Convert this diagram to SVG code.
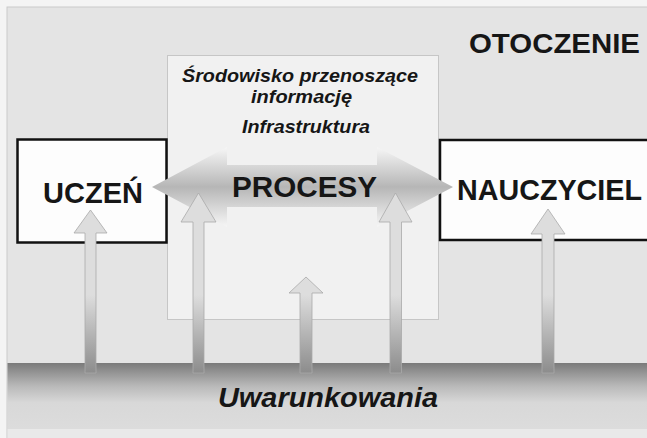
<svg xmlns="http://www.w3.org/2000/svg" width="647" height="438" viewBox="0 0 647 438">
  <style>
    .t { font-family: "Liberation Sans", Arial, sans-serif; font-weight: bold; fill: #161616; }
    .it { font-style: italic; }
    .box { fill: #fdfdfd; stroke: #111111; stroke-width: 2.5; }
    .varrow { fill: url(#vgrad); stroke: #a9a9a9; stroke-width: 0.8; }
  </style>
  <defs>
    <linearGradient id="band" x1="0" y1="0" x2="0" y2="1">
      <stop offset="0" stop-color="#7a7a7a"/>
      <stop offset="0.35" stop-color="#b9b9b9"/>
      <stop offset="0.6" stop-color="#d8d8d8"/>
      <stop offset="1" stop-color="#dcdcdc"/>
    </linearGradient>
    <linearGradient id="hgrad" x1="0" y1="0" x2="0" y2="1">
      <stop offset="0" stop-color="#f6f6f6"/>
      <stop offset="0.5" stop-color="#b6b6b6"/>
      <stop offset="1" stop-color="#f6f6f6"/>
    </linearGradient>
    <linearGradient id="vgrad" gradientUnits="userSpaceOnUse" x1="0" y1="295" x2="0" y2="373">
      <stop offset="0" stop-color="#dddddd"/>
      <stop offset="1" stop-color="#8c8c8c"/>
    </linearGradient>
  </defs>

  <!-- page and environment -->
  <rect x="0" y="0" width="647" height="438" fill="#f4f4f4"/>
  <g id="otoczenie">
    <rect x="7" y="7" width="641" height="432" fill="#e4e4e4" stroke="#c9c9c9" stroke-width="1"/>
    <text class="t" x="469" y="53" font-size="27" textLength="171" lengthAdjust="spacingAndGlyphs">OTOCZENIE</text>
  </g>

  <g id="uwarunkowania">
    <rect x="7.5" y="363" width="640" height="66" fill="url(#band)"/>
    <rect x="7.5" y="429" width="640" height="9" fill="#e9e9e9"/>
    <text class="t it" x="218" y="407" font-size="28" textLength="220" lengthAdjust="spacingAndGlyphs">Uwarunkowania</text>
  </g>

  <g id="srodowisko">
    <rect x="167.5" y="55.5" width="271" height="264" fill="#f1f1f1" stroke="#c6c6c6" stroke-width="1"/>
    <text class="t it" x="182" y="82" font-size="18" textLength="236" lengthAdjust="spacingAndGlyphs">Środowisko przenoszące</text>
    <text class="t it" x="251" y="103" font-size="18" textLength="101" lengthAdjust="spacingAndGlyphs">informację</text>
    <text class="t it" x="242" y="133" font-size="18" textLength="128" lengthAdjust="spacingAndGlyphs">Infrastruktura</text>
  </g>

  <g id="uczen">
    <rect class="box" x="17.5" y="139.5" width="149" height="103"/>
    <text class="t" x="43" y="203" font-size="30" textLength="100" lengthAdjust="spacingAndGlyphs">UCZEŃ</text>
  </g>

  <g id="nauczyciel">
    <rect class="box" x="440" y="140" width="220" height="100"/>
    <text class="t" x="457" y="200" font-size="30" textLength="185" lengthAdjust="spacingAndGlyphs">NAUCZYCIEL</text>
  </g>

  <g id="connectors">
    <g id="procesy">
      <polygon points="152,187 227,147 227,165 377,165 377,147 453,187 377,227 377,207 227,207 227,227" fill="url(#hgrad)"/>
      <text class="t" x="232" y="197" font-size="29" textLength="145" lengthAdjust="spacingAndGlyphs">PROCESY</text>
    </g>
    <polygon class="varrow" points="90.5,210 107,233 96,233 96,373 85,373 85,233 74,233"/>
    <polygon class="varrow" points="198.5,193 216,222 204,222 204,373 193,373 193,222 181,222"/>
    <polygon class="varrow" points="306,277 323,293 312,293 312,373 300,373 300,293 289,293"/>
    <polygon class="varrow" points="395.5,193 412,222 401.5,222 401.5,373 390,373 390,222 379,222"/>
    <polygon class="varrow" points="548,209 565,234 554,234 554,373 542,373 542,234 531,234"/>
  </g>
</svg>
